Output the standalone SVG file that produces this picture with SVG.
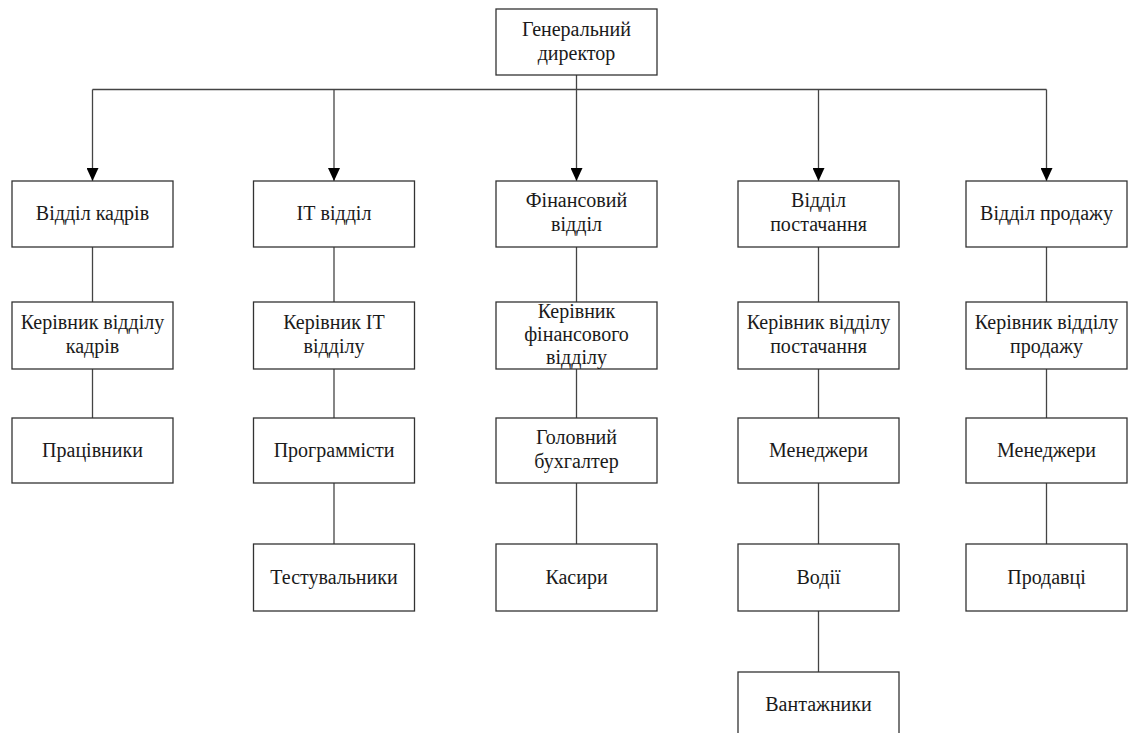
<svg xmlns="http://www.w3.org/2000/svg" width="1130" height="733" viewBox="0 0 1130 733">
<style>
.box{fill:#fff;stroke:#333;stroke-width:1.3}
.t{font-family:'Liberation Serif','DejaVu Serif',serif;font-size:20px;fill:#1a1a1a;text-anchor:middle}
.ln{stroke:#444;stroke-width:1.3;fill:none}
</style>
<defs>
<marker id="ah" markerWidth="13" markerHeight="12" refX="13" refY="6" orient="auto" markerUnits="userSpaceOnUse" viewBox="0 0 13 12">
<path d="M0,0 L13,6 L0,12 Z" fill="#000"/>
</marker>
</defs>
<rect width="1130" height="733" fill="#fff"/>
<g id="connectors">
<line class="ln" x1="576.5" y1="75" x2="576.5" y2="181" marker-end="url(#ah)"/>
<line class="ln" x1="92.5" y1="89.5" x2="1046.5" y2="89.5"/>
<line class="ln" x1="92.5" y1="89.5" x2="92.5" y2="181" marker-end="url(#ah)"/>
<line class="ln" x1="334" y1="89.5" x2="334" y2="181" marker-end="url(#ah)"/>
<line class="ln" x1="818.5" y1="89.5" x2="818.5" y2="181" marker-end="url(#ah)"/>
<line class="ln" x1="1046.5" y1="89.5" x2="1046.5" y2="181" marker-end="url(#ah)"/>
<line class="ln" x1="92.5" y1="247" x2="92.5" y2="302"/>
<line class="ln" x1="92.5" y1="369" x2="92.5" y2="418"/>
<line class="ln" x1="334" y1="247" x2="334" y2="302"/>
<line class="ln" x1="334" y1="369" x2="334" y2="418"/>
<line class="ln" x1="334" y1="483" x2="334" y2="544"/>
<line class="ln" x1="576.5" y1="247" x2="576.5" y2="302"/>
<line class="ln" x1="576.5" y1="369" x2="576.5" y2="418"/>
<line class="ln" x1="576.5" y1="483" x2="576.5" y2="544"/>
<line class="ln" x1="818.5" y1="247" x2="818.5" y2="302"/>
<line class="ln" x1="818.5" y1="369" x2="818.5" y2="418"/>
<line class="ln" x1="818.5" y1="483" x2="818.5" y2="544"/>
<line class="ln" x1="818.5" y1="611" x2="818.5" y2="672"/>
<line class="ln" x1="1046.5" y1="247" x2="1046.5" y2="302"/>
<line class="ln" x1="1046.5" y1="369" x2="1046.5" y2="418"/>
<line class="ln" x1="1046.5" y1="483" x2="1046.5" y2="544"/>
</g>
<g id="nodes">
<g id="gen"><rect class="box" x="496" y="9" width="161" height="66"/><text class="t" x="576.5" y="35.7">Генеральний</text><text class="t" x="576.5" y="60">директор</text></g>

<g id="hr"><rect class="box" x="12" y="181" width="161" height="66"/><text class="t" x="92.5" y="220">Відділ кадрів</text></g>
<g id="hr-head"><rect class="box" x="12" y="302" width="161" height="67"/><text class="t" x="92.5" y="329">Керівник відділу</text><text class="t" x="92.5" y="353">кадрів</text></g>
<g id="hr-staff"><rect class="box" x="12" y="418" width="161" height="65"/><text class="t" x="92.5" y="456.5">Працівники</text></g>

<g id="it"><rect class="box" x="253.5" y="181" width="161" height="66"/><text class="t" x="334" y="220">ІТ відділ</text></g>
<g id="it-head"><rect class="box" x="253.5" y="302" width="161" height="67"/><text class="t" x="334" y="329">Керівник ІТ</text><text class="t" x="334" y="353">відділу</text></g>
<g id="it-prog"><rect class="box" x="253.5" y="418" width="161" height="65"/><text class="t" x="334" y="456.5">Программісти</text></g>
<g id="it-test"><rect class="box" x="253.5" y="544" width="161" height="67"/><text class="t" x="334" y="583.5">Тестувальники</text></g>

<g id="fin"><rect class="box" x="496" y="181" width="161" height="66"/><text class="t" x="576.5" y="206.7">Фінансовий</text><text class="t" x="576.5" y="231">відділ</text></g>
<g id="fin-head"><rect class="box" x="496" y="302" width="161" height="67"/><text class="t" x="576.5" y="318">Керівник</text><text class="t" x="576.5" y="341">фінансового</text><text class="t" x="576.5" y="364">відділу</text></g>
<g id="fin-acc"><rect class="box" x="496" y="418" width="161" height="65"/><text class="t" x="576.5" y="444">Головний</text><text class="t" x="576.5" y="468">бухгалтер</text></g>
<g id="fin-cash"><rect class="box" x="496" y="544" width="161" height="67"/><text class="t" x="576.5" y="583.5">Касири</text></g>

<g id="sup"><rect class="box" x="738" y="181" width="161" height="66"/><text class="t" x="818.5" y="206.7">Відділ</text><text class="t" x="818.5" y="231">постачання</text></g>
<g id="sup-head"><rect class="box" x="738" y="302" width="161" height="67"/><text class="t" x="818.5" y="329">Керівник відділу</text><text class="t" x="818.5" y="353">постачання</text></g>
<g id="sup-man"><rect class="box" x="738" y="418" width="161" height="65"/><text class="t" x="818.5" y="456.5">Менеджери</text></g>
<g id="sup-drv"><rect class="box" x="738" y="544" width="161" height="67"/><text class="t" x="818.5" y="583.5">Водії</text></g>
<g id="sup-load"><rect class="box" x="738" y="672" width="161" height="70"/><text class="t" x="818.5" y="711">Вантажники</text></g>

<g id="sales"><rect class="box" x="966" y="181" width="161" height="66"/><text class="t" x="1046.5" y="220">Відділ продажу</text></g>
<g id="sales-head"><rect class="box" x="966" y="302" width="161" height="67"/><text class="t" x="1046.5" y="329">Керівник відділу</text><text class="t" x="1046.5" y="353">продажу</text></g>
<g id="sales-man"><rect class="box" x="966" y="418" width="161" height="65"/><text class="t" x="1046.5" y="456.5">Менеджери</text></g>
<g id="sales-sell"><rect class="box" x="966" y="544" width="161" height="67"/><text class="t" x="1046.5" y="583.5">Продавці</text></g>
</g>
</svg>
